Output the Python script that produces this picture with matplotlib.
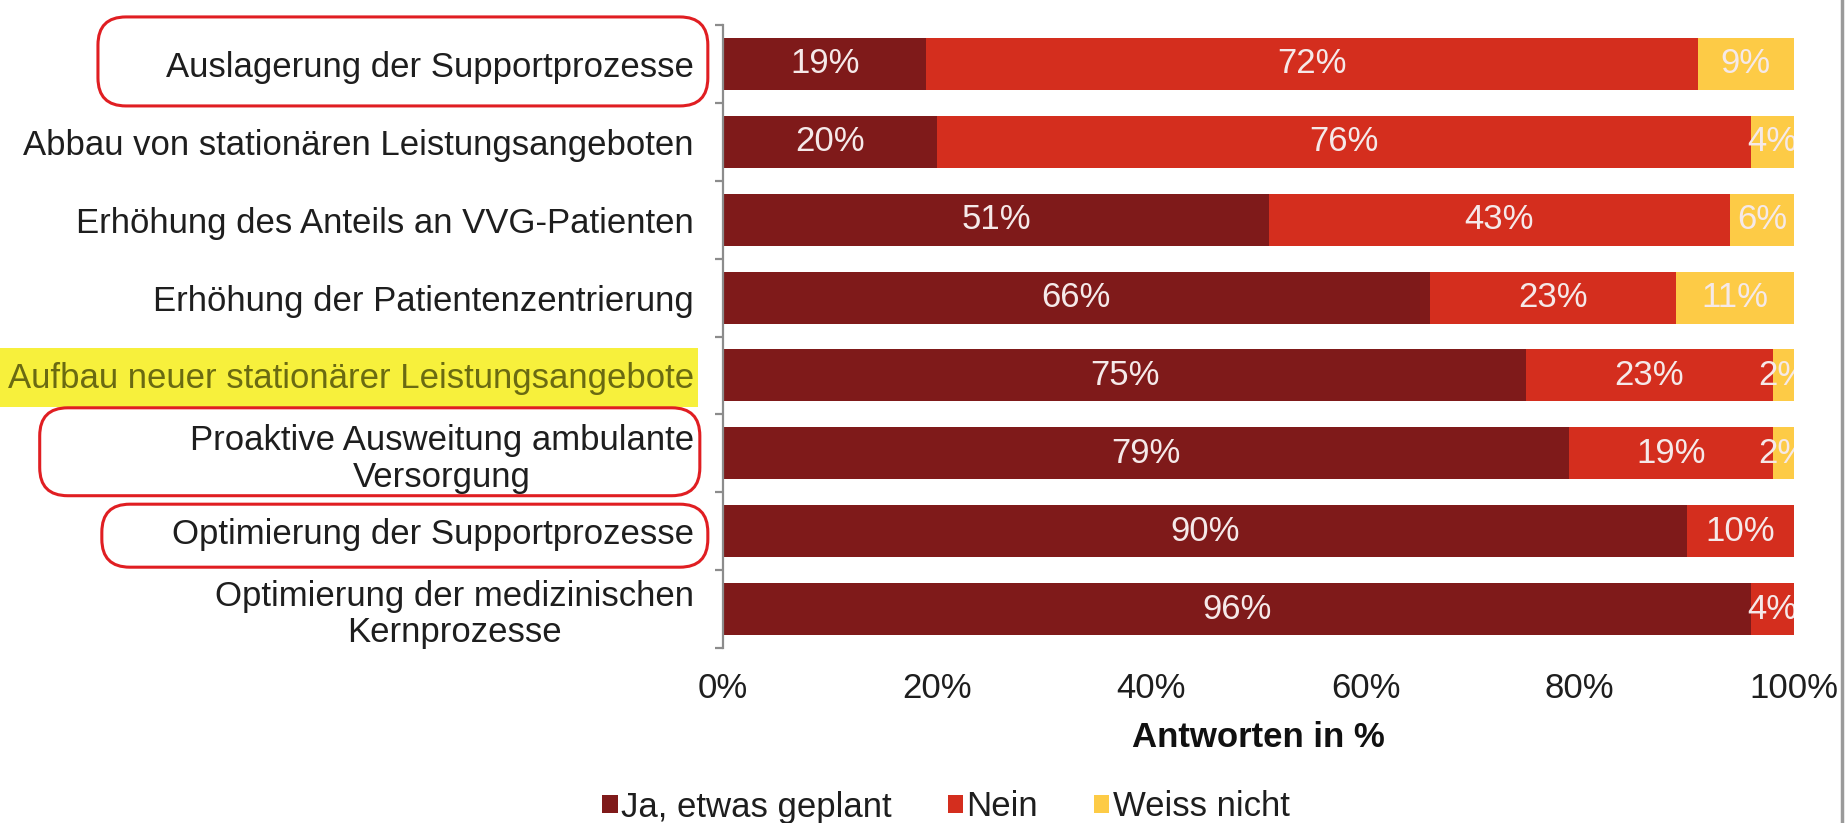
import matplotlib
matplotlib.use("Agg")
import matplotlib.pyplot as plt
import numpy as np
from matplotlib.patches import Patch, FancyBboxPatch, Rectangle
from matplotlib.lines import Line2D

plt.rcParams['font.family'] = ['Liberation Sans', 'DejaVu Sans']

categories = [
    "Auslagerung der Supportprozesse",
    "Abbau von stationären Leistungsangeboten",
    "Erhöhung des Anteils an VVG-Patienten",
    "Erhöhung der Patientenzentrierung",
    "Aufbau neuer stationärer Leistungsangebote",
    "Proaktive Ausweitung ambulante\nVersorgung",
    "Optimierung der Supportprozesse",
    "Optimierung der medizinischen\nKernprozesse",
]
series_names = ["Ja, etwas geplant", "Nein", "Weiss nicht"]
ja = [19, 20, 51, 66, 75, 79, 90, 96]
nein = [72, 76, 43, 23, 23, 19, 10, 4]
weiss = [9, 4, 6, 11, 2, 2, 0, 0]
xticks = [0, 20, 40, 60, 80, 100]
xticklabels = ["0%", "20%", "40%", "60%", "80%", "100%"]
colors = ["#7F1A1A", "#D42E1E", "#FDCB46"]

FS = 25
W, H = 1847, 823
fig = plt.figure(figsize=(W / 100, H / 100), dpi=100)
ax = fig.add_axes([723 / W, 1 - 648 / H, (1794 - 723) / W, (648 - 25) / H])

y = np.arange(len(categories))
left = np.zeros(len(categories))
for vals, col in zip([ja, nein, weiss], colors):
    vals = np.array(vals, dtype=float)
    ax.barh(y, vals, left=left, height=0.667, color=col, edgecolor='none')
    for yi, l, v in zip(y, left, vals):
        if v > 0:
            ax.text(l + v / 2, yi, f"{int(v)}%", ha='center', va='center',
                    color='#F5E9E9', fontsize=FS, clip_on=True)
    left += vals

ax.set_xlim(0, 100)
ax.set_ylim(len(categories) - 0.5, -0.5)

for s in ['top', 'right', 'bottom']:
    ax.spines[s].set_visible(False)
ax.spines['left'].set_color('#8C8C8C')
ax.spines['left'].set_linewidth(1.6)

ax.set_yticks(y)
ax.set_yticklabels(categories, fontsize=FS, color='#1E1E1E')
ax.set_yticks(np.arange(-0.5, len(categories), 1), minor=True)
ax.tick_params(axis='y', which='major', length=0, pad=21)
ax.tick_params(axis='y', which='minor', length=6, width=1.6, color='#8C8C8C', direction='out')
for lab in ax.get_yticklabels():
    lab.set_multialignment('center')
    lab.set_linespacing(1.15)

ax.set_xticks(xticks)
ax.set_xticklabels(xticklabels, fontsize=FS, color='#1E1E1E')
ax.tick_params(axis='x', length=0, pad=17)
ax.set_xlabel("Antworten in %", fontsize=FS, fontweight='bold', color='#111111', labelpad=12)

handles = [Patch(facecolor=c, edgecolor='none') for c in colors]
fig.legend(handles, series_names, loc='center', bbox_to_anchor=(946 / W, 1 - 807 / H),
           ncol=3, frameon=False, fontsize=FS, handlelength=0.45, handleheight=0.45,
           handletextpad=0.1, columnspacing=1.6, labelcolor='#1E1E1E')

fig.add_artist(Line2D([1842 / W, 1842 / W], [0, 1], transform=fig.transFigure,
                      color='#9A9A9A', linewidth=2.5))

# hand-made annotations visible in the screenshot, placed around the tick labels
fig.canvas.draw()
renderer = fig.canvas.get_renderer()
labs = ax.get_yticklabels()
labs[4].set_color('#6A6A12')
bb = labs[4].get_window_extent(renderer)
fig.add_artist(Rectangle((0, bb.y0 - 12), bb.x1 + 4, bb.height + 26, transform=None,
                         facecolor='#F7F03C', edgecolor='none', zorder=-1))
# (label index, extra left, right, top, bottom) in pixels
outlines = [(0, 68, 14, 34, 22), (5, 150, 6, 16, 2), (6, 70, 14, 14, 16)]
for i, dl, dr, dt, db in outlines:
    bb = labs[i].get_window_extent(renderer)
    fig.add_artist(FancyBboxPatch((bb.x0 - dl, bb.y0 - db),
                                  bb.width + dl + dr, bb.height + dt + db,
                                  boxstyle='round,pad=0,rounding_size=28', transform=None,
                                  facecolor='none', edgecolor='#E01E22', linewidth=2.2,
                                  zorder=5))

fig.savefig("out.png", dpi=100, facecolor='white')
